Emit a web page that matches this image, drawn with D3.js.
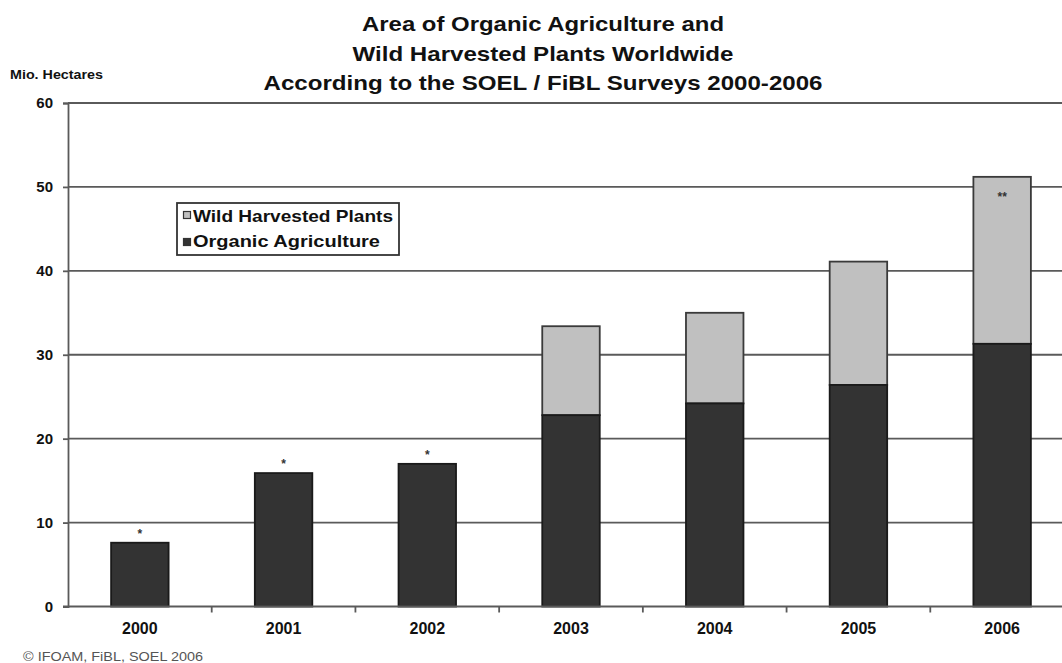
<!DOCTYPE html>
<html>
<head>
<meta charset="utf-8">
<script src="https://cdn.jsdelivr.net/npm/d3@7"></script>
<style>
body { margin: 0; background: #fff; }
text { font-family: Arial, "Liberation Sans", sans-serif; }
</style>
</head>
<body>
<script>
// data (Mio. hectares)
var years = ["2000", "2001", "2002", "2003", "2004", "2005", "2006"];
var organic = [7.6, 15.9, 17.0, 22.8, 24.2, 26.4, 31.3];
var wild = [0, 0, 0, 10.6, 10.8, 14.7, 19.9];
var notes = ["*", "*", "*", "", "", "", "**"];
var yTicks = [0, 10, 20, 30, 40, 50, 60];
var titleLines = ["Area of Organic Agriculture and", "Wild Harvested Plants Worldwide", "According to the SOEL / FiBL Surveys 2000-2006"];
var legendLabels = ["Wild Harvested Plants", "Organic Agriculture"];

var W = 1062, H = 663;
// note: "top" is a reserved window property, so use plotTop etc.
var plotLeft = 68, plotRight = 1074, plotTop = 103, plotBottom = 606.5;

var svg = d3.select("body").append("svg").attr("width", W).attr("height", H);

var x = d3.scaleBand().domain(years).range([plotLeft, plotRight]).paddingInner(0.6).paddingOuter(0.3);
var xb = d3.scaleBand().domain(years).range([plotLeft, plotRight]);
var y = d3.scaleLinear().domain([0, 60]).range([plotBottom, plotTop]);

// gridlines
svg.selectAll("line.grid").data(yTicks.slice(1)).enter().append("line")
	.attr("x1", plotLeft).attr("x2", plotRight)
	.attr("y1", function(d) { return y(d); }).attr("y2", function(d) { return y(d); })
	.attr("stroke", "#5a5a5a").attr("stroke-width", 1.8);

// stacked bars
var stack = years.map(function(yr, i) { return {yr: yr, o: organic[i], w: wild[i], n: notes[i]}; });

svg.selectAll("rect.wild").data(stack.filter(function(d) { return d.w > 0; })).enter().append("rect")
	.attr("x", function(d) { return x(d.yr); })
	.attr("width", x.bandwidth())
	.attr("y", function(d) { return y(d.o + d.w); })
	.attr("height", function(d) { return y(d.o) - y(d.o + d.w); })
	.attr("fill", "#c0c0c0").attr("stroke", "#3a3a3a").attr("stroke-width", 1.8);

svg.selectAll("rect.org").data(stack).enter().append("rect")
	.attr("x", function(d) { return x(d.yr); })
	.attr("width", x.bandwidth())
	.attr("y", function(d) { return y(d.o); })
	.attr("height", function(d) { return y(0) - y(d.o); })
	.attr("fill", "#333").attr("stroke", "#1a1a1a").attr("stroke-width", 1.8);

// asterisks
svg.selectAll("text.note").data(stack.filter(function(d) { return d.n; })).enter().append("text")
	.attr("x", function(d) { return x(d.yr) + x.bandwidth() / 2; })
	.attr("y", function(d) { return d.w > 0 ? y(d.o + d.w) + 24 : y(d.o) - 5; })
	.attr("text-anchor", "middle").attr("font-size", 12).attr("font-weight", "bold").attr("fill", "#333")
	.text(function(d) { return d.n; });

// y axis
var yAxis = d3.axisLeft(y).tickValues(yTicks).tickSize(5).tickPadding(10);
var gy = svg.append("g").attr("transform", "translate(" + plotLeft + ",0)").call(yAxis);
gy.select(".domain").attr("stroke", "#5a5a5a").attr("stroke-width", 1.8);
gy.selectAll(".tick line").attr("stroke", "#5a5a5a").attr("stroke-width", 1.8);
gy.selectAll("text").attr("font-size", 15).attr("font-weight", "bold").attr("fill", "#111");

// x axis (ticks between categories)
var gx = svg.append("g").attr("transform", "translate(0," + plotBottom + ")")
	.call(d3.axisBottom(x).tickSize(0).tickPadding(16));
gx.select(".domain").remove();
gx.selectAll("text").attr("font-size", 16).attr("font-weight", "bold").attr("fill", "#111");
svg.append("line").attr("x1", plotLeft - 5).attr("x2", plotRight).attr("y1", plotBottom).attr("y2", plotBottom)
	.attr("stroke", "#5a5a5a").attr("stroke-width", 1.8);
svg.selectAll("line.xt").data(years.slice(1)).enter().append("line")
	.attr("x1", function(d) { return xb(d); }).attr("x2", function(d) { return xb(d); })
	.attr("y1", plotBottom).attr("y2", plotBottom + 6)
	.attr("stroke", "#5a5a5a").attr("stroke-width", 1.8);

// titles (slightly stretched, like the scanned original)
var titleWidths = [362, 381, 559];
svg.selectAll("text.title").data(titleLines).enter().append("text")
	.attr("x", 543).attr("y", function(d, i) { return 31 + i * 29.5; })
	.attr("text-anchor", "middle").attr("font-size", 21).attr("font-weight", "bold").attr("fill", "#111")
	.attr("textLength", function(d, i) { return titleWidths[i]; })
	.attr("lengthAdjust", "spacingAndGlyphs")
	.text(function(d) { return d; });

svg.append("text").attr("x", 10).attr("y", 79).attr("font-size", 12).attr("font-weight", "bold")
	.attr("fill", "#111").attr("textLength", 93).attr("lengthAdjust", "spacingAndGlyphs")
	.text("Mio. Hectares");

svg.append("text").attr("x", 23).attr("y", 661).attr("font-size", 13).attr("fill", "#555")
	.attr("textLength", 180).attr("lengthAdjust", "spacingAndGlyphs")
	.text("\u00a9 IFOAM, FiBL, SOEL 2006");

// legend
var lg = svg.append("g");
lg.append("rect").attr("x", 177).attr("y", 203).attr("width", 222).attr("height", 52)
	.attr("fill", "#fff").attr("stroke", "#333").attr("stroke-width", 1.8);
var legendColors = ["#c0c0c0", "#333"];
var legendWidths = [200, 187];
legendLabels.forEach(function(l, i) {
	lg.append("rect").attr("x", 183.5).attr("y", 211.5 + i * 27).attr("width", 7).attr("height", 7)
		.attr("fill", legendColors[i]).attr("stroke", "#333").attr("stroke-width", 1.2);
	lg.append("text").attr("x", 193).attr("y", 221.5 + i * 25).attr("font-size", 17).attr("font-weight", "bold")
		.attr("fill", "#111").attr("textLength", legendWidths[i]).attr("lengthAdjust", "spacingAndGlyphs")
		.text(l);
});
</script>
</body>
</html>
